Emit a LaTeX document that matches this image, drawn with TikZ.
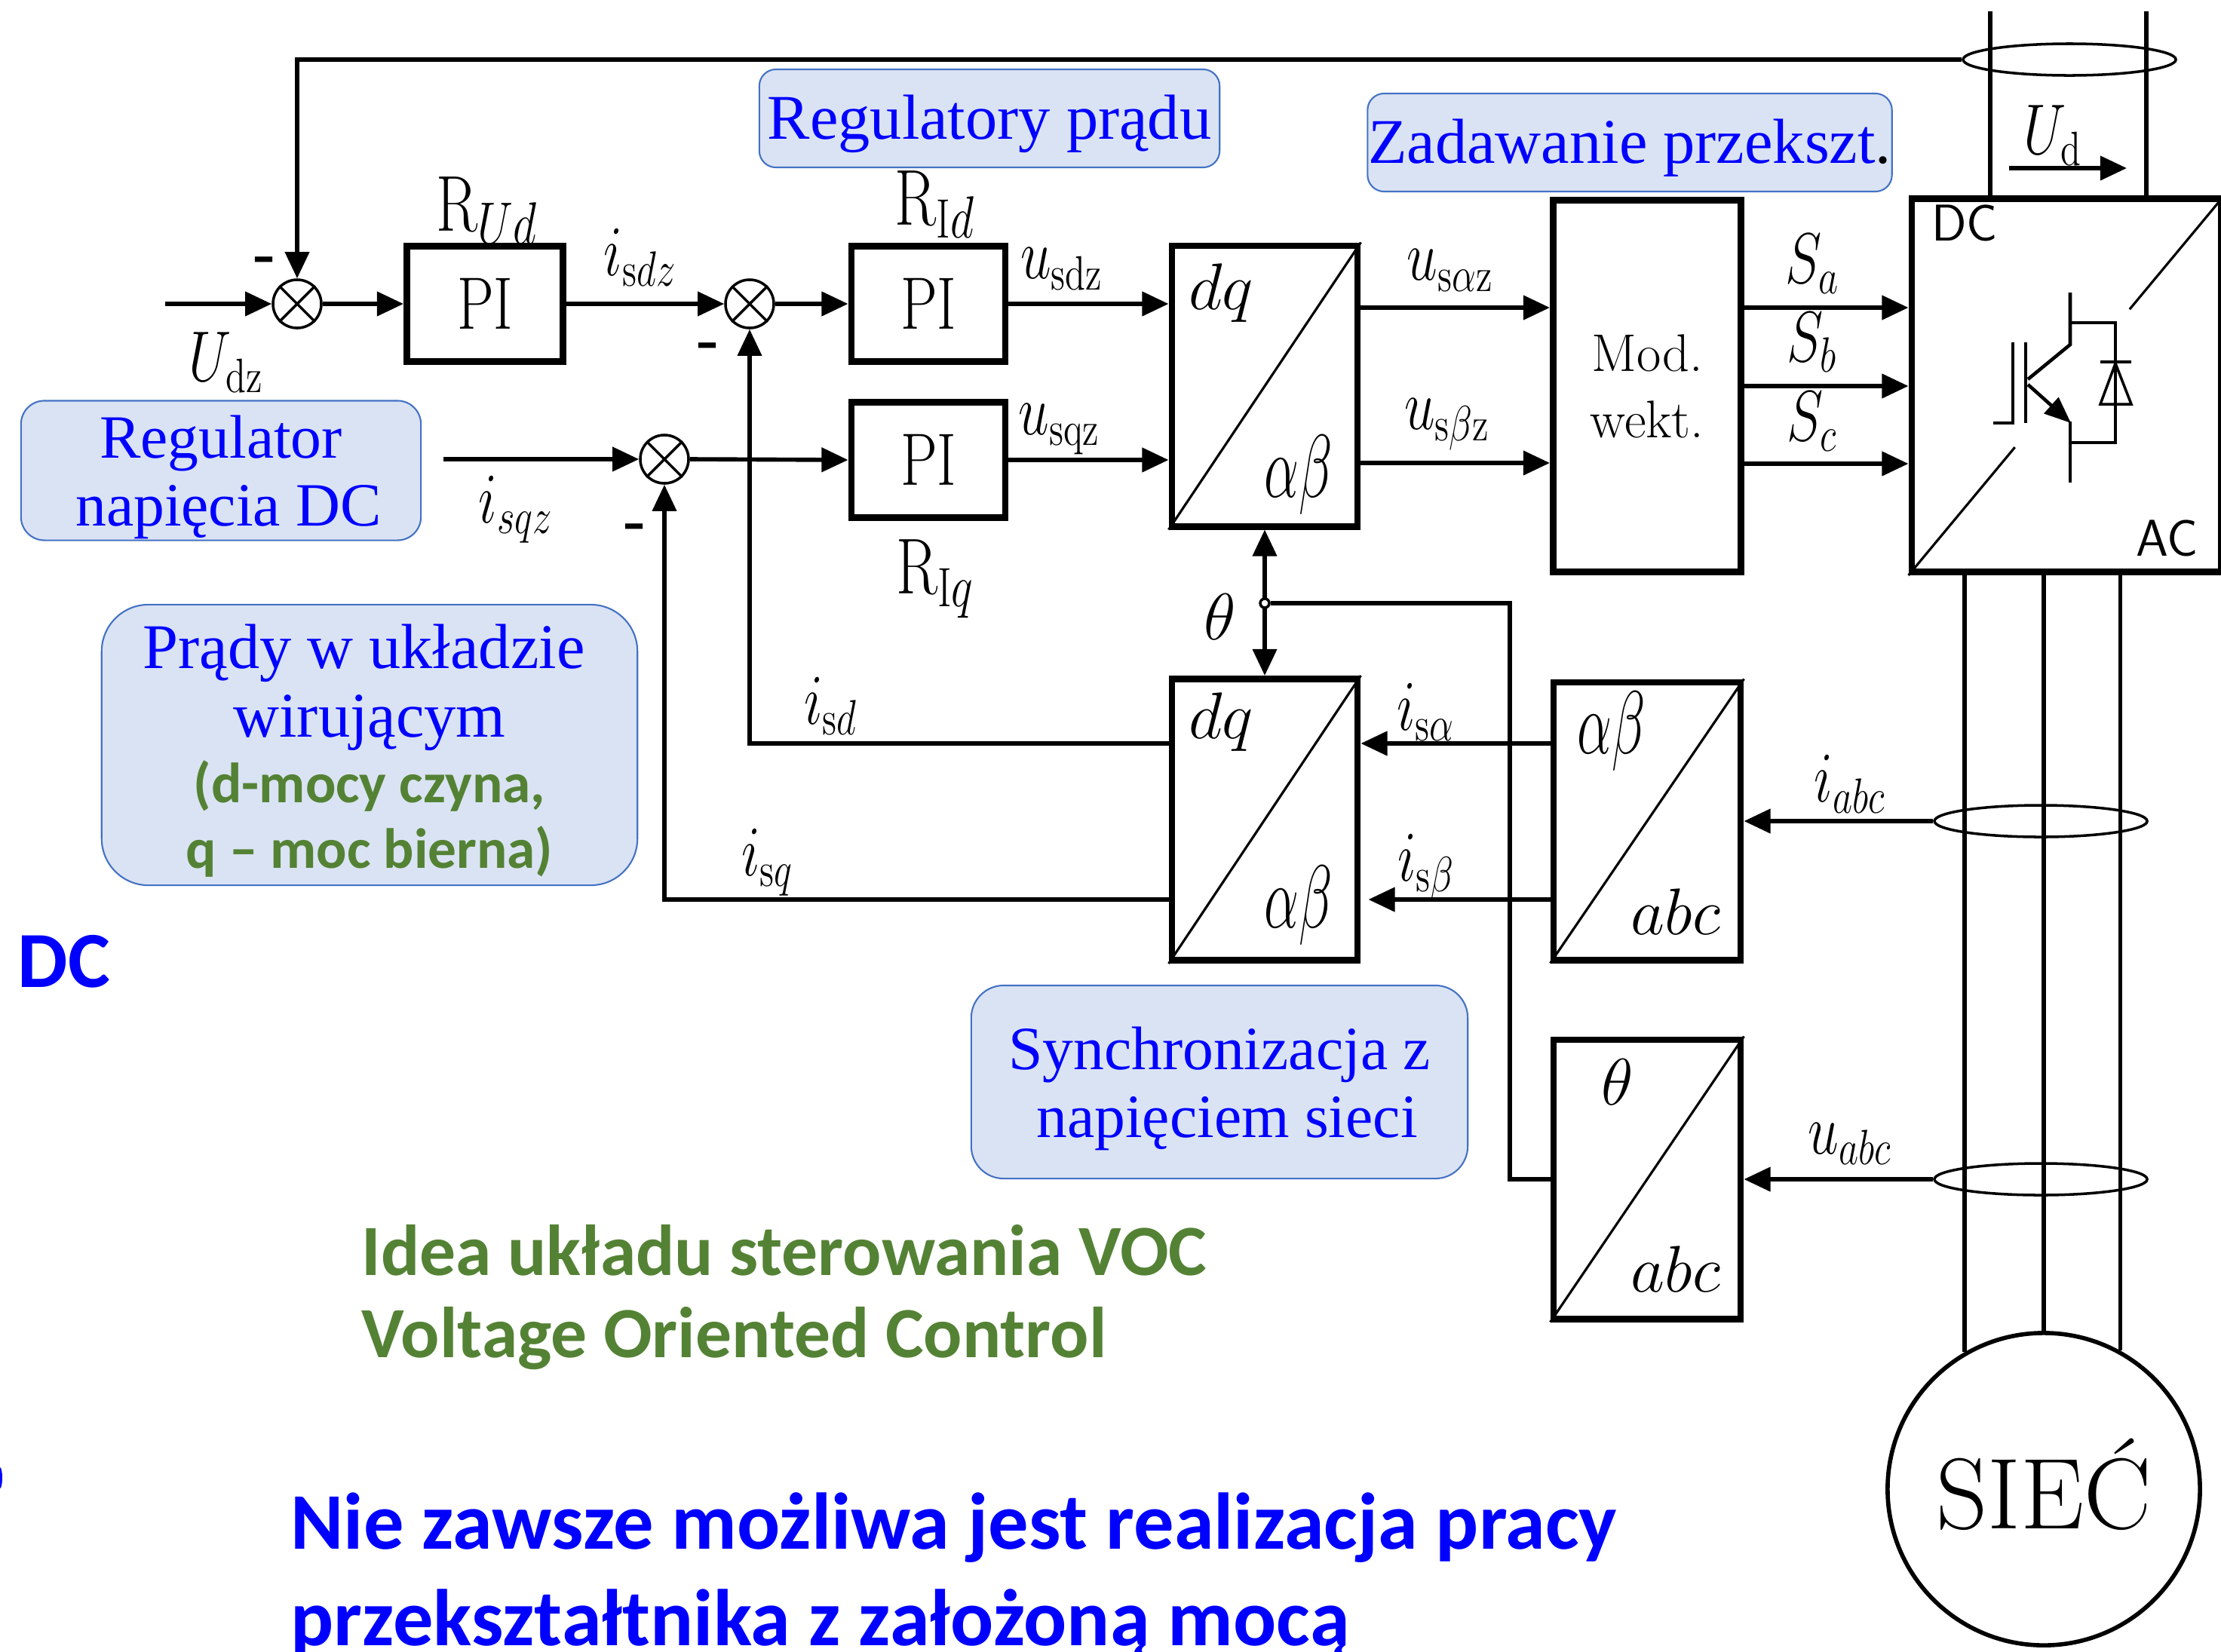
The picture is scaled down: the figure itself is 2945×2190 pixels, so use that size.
\documentclass[tikz,border=0pt]{standalone}
\usepackage{fontspec}
\newfontfamily\calibri{Carlito}
\newfontfamily\cambria{Liberation Serif}
\usetikzlibrary{calc, arrows.meta, shapes.geometric}
\definecolor{calloutfill}{HTML}{DAE3F3}
\definecolor{calloutline}{HTML}{4472C4}
\definecolor{textblue}{HTML}{0000FF}
\definecolor{textgreen}{HTML}{548235}
\newcommand{\greenpart}[1]{{\calibri\bfseries\fontsize{21.4}{25.7}\selectfont\color{textgreen}#1}}
\newcommand{\lowertext}{\rule{0pt}{21pt}}
\newcommand{\pitext}{\scalebox{1.1}[1.4]{PI}}

\begin{document}
\begin{tikzpicture}[
    x=0.01cm, y=-0.01cm,
    >={Triangle[length=10pt, width=9pt]},
    block/.style={draw, rectangle, line width=2.5pt, inner sep=0pt, align=center, font=\fontsize{20}{25}\selectfont},
    sumnode/.style={draw, circle, minimum size=0.64cm, inner sep=0pt, line width=1pt},
    wire/.style={line width=1.5pt},
    sig/.style={->, line width=1.6pt},
    diag/.style={line width=0.9pt},
    clamp/.style={draw, ellipse, minimum width=2.82cm, minimum height=0.42cm, inner sep=0pt, line width=1pt},
    callout/.style={draw=calloutline, fill=calloutfill, line width=0.6pt, align=center, inner sep=0pt, text=textblue, font=\cambria\fontsize{24}{25.7}\selectfont},
    calloutsmall/.style={callout, font=\cambria\fontsize{23.2}{25.7}\selectfont},
    sigtext/.style={inner sep=0pt, font=\fontsize{20}{24}\selectfont, yscale=1.3, transform shape},
    regtext/.style={sigtext, font=\fontsize{23}{26}\selectfont},
    ratiotext/.style={inner sep=0pt, font=\fontsize{24}{28}\selectfont},
    alphabeta/.style={sigtext, font=\fontsize{21}{24}\selectfont, yscale=1.25},
    minus/.style={inner sep=0pt, font=\bfseries\fontsize{22}{22}\selectfont},
    sanstext/.style={inner sep=0pt, font=\sffamily\fontsize{19.5}{20}\selectfont},
    greenbold/.style={inner sep=0pt, anchor=west, text=textgreen, font=\calibri\bfseries\fontsize{27.2}{32}\selectfont},
    bluebold/.style={inner sep=0pt, anchor=west, text=textblue, font=\calibri\bfseries\fontsize{30.3}{36}\selectfont}
]
    \useasboundingbox (0,0) rectangle (2945,2190);
    \clip (0,0) rectangle (2945,2190);

    % Regulators
    \node[sumnode] (sumU) at (394,403) {};
    \node[block, minimum width=2.07cm, minimum height=1.53cm] (piU) at (643,403) {\pitext};
    \node[sumnode] (sumD) at (994,403) {};
    \node[block, minimum width=2.04cm, minimum height=1.53cm] (piD) at (1231,403) {\pitext};
    \node[sumnode] (sumQ) at (881,609) {};
    \node[block, minimum width=2.04cm, minimum height=1.53cm] (piQ) at (1231,610) {\pitext};

    % Conversion blocks
    \node[block, minimum width=2.46cm, minimum height=3.72cm] (dqUp) at (1677,512) {};
    \node[block, minimum width=2.46cm, minimum height=3.73cm] (dqLow) at (1677,1087) {};
    \node[block, minimum width=2.48cm, minimum height=3.68cm] (abcI) at (2184,1089) {};
    \node[block, minimum width=2.48cm, minimum height=3.70cm] (abcU) at (2184,1564) {};
    \node[block, minimum width=2.49cm, minimum height=4.92cm] (modW) at (2184,512) {Mod.\\wekt.};
    \node[block, minimum width=4.10cm, minimum height=4.95cm] (conv) at (2740,511) {};
    \foreach \conv in {dqUp, dqLow, abcI, abcU} {
        \draw[diag] (\conv.south west) -- (\conv.north east);
    }
    \draw[diag] (conv.south west) -- ($(conv.south west)!0.337!(conv.north east)$);
    \draw[diag] ($(conv.south west)!0.70!(conv.north east)$) -- (conv.north east);

    % Grid
    \node[draw, circle, line width=1.6pt, minimum size=4.14cm, inner sep=0pt, font=\fontsize{38}{38}\selectfont] (siec) at (2710,1975) {\raisebox{0.15cm}{SIEĆ}};
    \draw[wire] (conv.south -| siec.120) -- (siec.120);
    \draw[wire] (conv.south -| siec.north) -- (siec.north);
    \draw[wire] (conv.south -| siec.61) -- (siec.61);

    % DC link
    \coordinate (dcPlus) at (2639,15);
    \coordinate (dcMinus) at (2846,15);
    \coordinate (udStart) at (2664,223);
    \coordinate (udEnd) at (2820,223);
    \draw[wire] (dcPlus) -- (dcPlus |- conv.north);
    \draw[wire] (dcMinus) -- (dcMinus |- conv.north);
    \draw[sig] (udStart) -- (udEnd);
    \node[clamp] (clampUd) at (2744,79) {};
    \node[clamp] (clampI) at (2706,1089) {};
    \node[clamp] (clampU) at (2706,1564) {};

    % Summing points
    \foreach \sumname in {sumU, sumD, sumQ} {
        \draw[line width=1pt] (\sumname.45) -- (\sumname.225);
        \draw[line width=1pt] (\sumname.135) -- (\sumname.315);
    }

    % Control path
    \coordinate (inUdz) at (219,403);
    \coordinate (inIsqz) at (588,609);
    \draw[sig] (clampUd.west) -| (sumU.north);
    \draw[sig] (inUdz) -- (sumU.west);
    \draw[sig] (sumU.east) -- (piU.west);
    \draw[sig] (piU.east) -- (sumD.west);
    \draw[sig] (sumD.east) -- (piD.west);
    \draw[sig] (inIsqz) -- (sumQ.west);
    \draw[sig] (sumQ.east) -- (piQ.west);
    \draw[sig] (piD.east) -- (dqUp.west |- piD.east);
    \draw[sig] (piQ.east) -- (dqUp.west |- piQ.east);
    \coordinate (outAlpha) at (1803,408);
    \coordinate (outBeta) at (1803,614);
    \draw[sig] (outAlpha) -- (modW.west |- outAlpha);
    \draw[sig] (outBeta) -- (modW.west |- outBeta);
    \coordinate (outSa) at (2310,408);
    \coordinate (outSb) at (2310,512);
    \coordinate (outSc) at (2310,615);
    \draw[sig] (outSa) -- (conv.west |- outSa);
    \draw[sig] (outSb) -- (conv.west |- outSb);
    \draw[sig] (outSc) -- (conv.west |- outSc);

    % Feedback
    \coordinate (fbAlpha) at (2058,986);
    \coordinate (fbBeta) at (2058,1193);
    \coordinate (thetaTurn) at (2002,800);
    \draw[<->, wire] (dqUp.south) -- (dqLow.north);
    \node[draw, circle, fill=white, line width=1pt, minimum size=0.12cm, inner sep=0pt] (thetaDot) at (1677,800) {};
    \draw[wire] (thetaDot.east) -- (thetaTurn) |- (abcU.west);
    \draw[sig] (fbAlpha) -- (dqLow.east |- fbAlpha);
    \draw[sig, shorten >=1mm] (fbBeta) -- (dqLow.east |- fbBeta);
    \draw[wire, ->] (dqLow.west |- fbAlpha) -| (sumD.south);
    \draw[wire, ->] (dqLow.west |- fbBeta) -| (sumQ.south);
    \draw[sig] (clampI.west) -- (abcI.east);
    \draw[sig] (clampU.west) -- (abcU.east);

    % IGBT
    \draw[line width=1.3pt] (2643,561) -- (2669,561) -- (2669,454);
    \draw[line width=1.3pt] (2686,454) -- (2686,561);
    \draw[line width=1.3pt] (2745,388) -- (2745,457) -- (2689,503);
    \draw[line width=1.3pt, -{Triangle[length=10pt, width=8pt]}] (2689,510) -- (2746,561);
    \draw[line width=1.3pt] (2745,559) -- (2745,640);
    \draw[line width=1.3pt] (2745,428) -- (2805,428) -- (2805,587) -- (2745,587);
    \draw[line width=1pt] (2785,480) -- (2826,480);
    \draw[line width=1pt] (2785,536) -- (2826,536) -- (2805,482) -- cycle;

    % Block texts
    \node[ratiotext] (dqUpTop) at (1619,389) {$dq$};
    \node[alphabeta] (dqUpBot) at (1722,630) {$\alpha\beta$};
    \node[ratiotext] (dqLowTop) at (1619,958) {$dq$};
    \node[alphabeta] (dqLowBot) at (1722,1201) {$\alpha\beta$};
    \node[alphabeta] (abcITop) at (2137,970) {$\alpha\beta$};
    \node[ratiotext] (abcIBot) at (2222,1209) {$abc$};
    \node[ratiotext] (abcUTop) at (2145,1435) {$\theta$};
    \node[ratiotext] (abcUBot) at (2222,1683) {$abc$};
    \node[sanstext] (dcText) at (2605,296) {DC};
    \node[sanstext] (acText) at (2874,714) {AC};

    % Signal labels
    \node[regtext] (rUd) at (646,279) {R$_{Ud}$};
    \node[regtext] (rId) at (1240,271) {R$_{\mathrm{I}d}$};
    \node[regtext] (rIq) at (1240,768) {R$_{\mathrm{I}q}$};
    \node[sigtext] (lblIsdz) at (849,342) {$i_{\mathrm{s}dz}$};
    \node[sigtext] (lblUsdz) at (1408,357) {$u_{\mathrm{sdz}}$};
    \node[sigtext] (lblUsqz) at (1405,569) {$u_{\mathrm{sqz}}$};
    \node[sigtext] (lblUsa) at (1923,359) {$u_{\mathrm{s}\alpha\mathrm{z}}$};
    \node[sigtext] (lblUsb) at (1919,563) {$u_{\mathrm{s}\beta\mathrm{z}}$};
    \node[sigtext] (lblUdz) at (300,481) {$U_{\mathrm{dz}}$};
    \node[sigtext] (lblIsqz) at (684,676) {$i_{sqz}$};
    \node[sigtext] (lblIsd) at (1102,937) {$i_{\mathrm{s}d}$};
    \node[sigtext] (lblIsq) at (1018,1144) {$i_{\mathrm{s}q}$};
    \node[sigtext] (lblIsa) at (1891,945) {$i_{\mathrm{s}\alpha}$};
    \node[sigtext] (lblIsb) at (1891,1151) {$i_{\mathrm{s}\beta}$};
    \node[sigtext] (lblIabc) at (2453,1040) {$i_{abc}$};
    \node[sigtext] (lblUabc) at (2453,1517) {$u_{abc}$};
    \node[sigtext] (lblSa) at (2403,350) {$S_a$};
    \node[sigtext] (lblSb) at (2403,454) {$S_b$};
    \node[sigtext] (lblSc) at (2403,559) {$S_c$};
    \node[sigtext] (lblUd) at (2722,180) {$U_{\mathrm{d}}$};
    \node[ratiotext] (lblTheta) at (1618,818) {$\theta$};
    \node[minus] (minusU) at (352,351) {-};
    \node[minus] (minusD) at (940,465) {-};
    \node[minus] (minusQ) at (843,705) {-};

    % Callouts
    \node[callout, rounded corners=0.22cm, minimum width=6.10cm, minimum height=1.30cm] (noteCurrent) at (1312,157) {\lowertext Regulatory prądu};
    \node[callout, rounded corners=0.22cm, minimum width=6.95cm, minimum height=1.30cm] (noteMod) at (2161,189) {\lowertext Zadawanie przekszt{\color{black}.}};
    \node[calloutsmall, rounded corners=0.31cm, minimum width=5.30cm, minimum height=1.85cm] (noteVoltage) at (293,624) {\lowertext Regulator\\\hspace*{0.2cm}napięcia DC};
    \node[callout, rounded corners=0.62cm, minimum width=7.10cm, minimum height=3.72cm] (noteRot) at (490,988) {\lowertext Prądy w układzie\hspace*{0.15cm}\\wirującym\\[-1pt]\greenpart{(d-mocy czyna,}\hspace*{0.15cm}\\[-1pt]\greenpart{q – moc bierna)}};
    \node[calloutsmall, rounded corners=0.43cm, minimum width=6.58cm, minimum height=2.56cm] (noteSync) at (1617,1435) {\lowertext Synchronizacja z\\\hspace*{0.2cm}napięciem sieci};

    % Free texts
    \node[greenbold] (ideaOne) at (479,1658) {Idea układu sterowania VOC};
    \node[greenbold] (ideaTwo) at (479,1775) {Voltage Oriented Control};
    \node[inner sep=0pt, anchor=west, text=textblue, font=\calibri\bfseries\fontsize{30}{36}\selectfont] (dcWord) at (23,1275) {DC};
    \node[bluebold] (warnOne) at (385,2026) {Nie zawsze możliwa jest realizacja pracy};
    \node[bluebold] (warnTwo) at (385,2154) {przekształtnika z założoną mocą};
    \fill[textblue] (0,1960) ellipse (3 and 14);
\end{tikzpicture}
\end{document}
